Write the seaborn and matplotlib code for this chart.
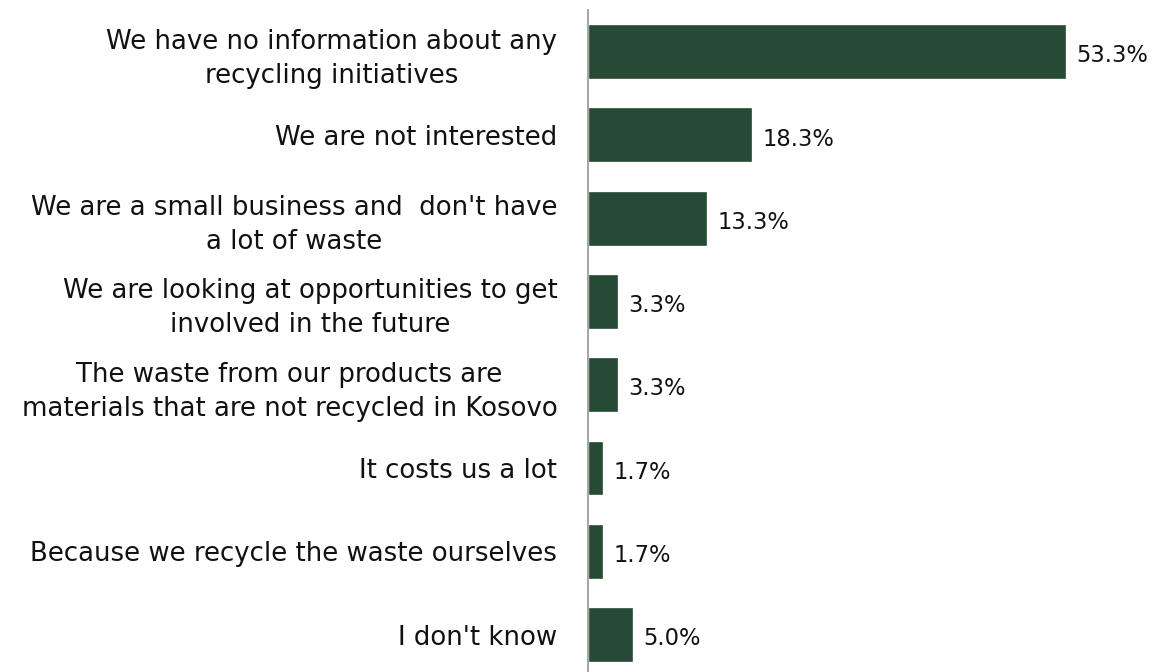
import numpy as np
import pandas as pd
import seaborn as sns
import matplotlib.pyplot as plt

# Survey answers and shares (%)
reasons = [
    "We have no information about any\nrecycling initiatives",
    "We are not interested",
    "We are a small business and  don't have\na lot of waste",
    "We are looking at opportunities to get\ninvolved in the future",
    "The waste from our products are\nmaterials that are not recycled in Kosovo",
    "It costs us a lot",
    "Because we recycle the waste ourselves",
    "I don't know",
]
shares = [53.3, 18.3, 13.3, 3.3, 3.3, 1.7, 1.7, 5.0]

df = pd.DataFrame({"reason": reasons, "share": shares})

sns.set_style("white")
plt.rcParams['font.family'] = ['DejaVu Sans']

fig = plt.figure(figsize=(12, 7), dpi=96)
ax = fig.add_axes([588 / 1152, 0, 556 / 1152, 0.985])

sns.barplot(data=df, x="share", y="reason", color="#264a33", width=0.66,
            saturation=1, ax=ax)

ax.set_xlim(0, 62)
ax.set_ylim(7.45, -0.5)
ax.set_xlabel("")
ax.set_ylabel("")
ax.set_xticks([])
for s in ["top", "right", "bottom"]:
    ax.spines[s].set_visible(False)
ax.spines["left"].set_color("#a6a6a6")
ax.spines["left"].set_linewidth(1.5)

ax.tick_params(axis="y", length=0, pad=23)
for lab in ax.get_yticklabels():
    lab.set_fontsize(19.5)
    lab.set_multialignment("center")
    lab.set_linespacing(1.4)
    lab.set_color("#111111")

for i, v in enumerate(shares):
    ax.text(v + 1.2, i + 0.05, f"{v:.1f}%", va="center", ha="left",
            fontsize=17, color="#111111")

fig.savefig("out.png", dpi=96)
